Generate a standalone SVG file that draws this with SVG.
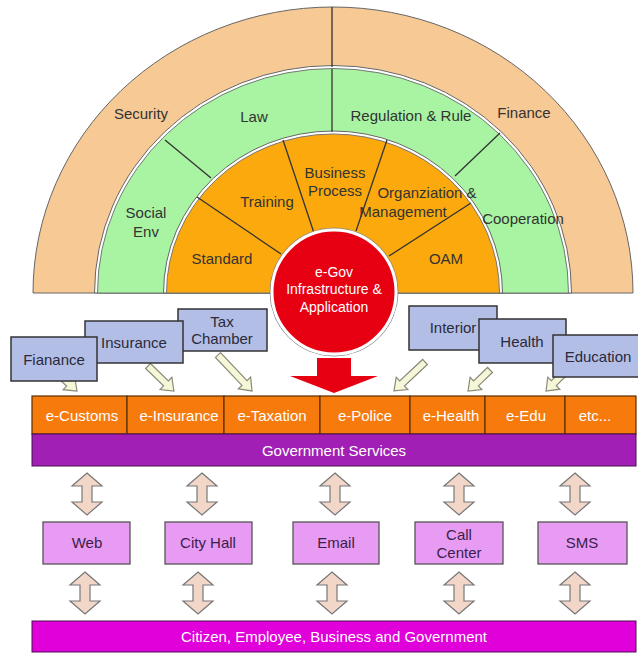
<svg xmlns="http://www.w3.org/2000/svg" xmlns:xlink="http://www.w3.org/1999/xlink" width="638" height="653" viewBox="0 0 638 653">
<defs>
<style>
text{font-family:"Liberation Sans",Arial,sans-serif;text-anchor:middle}
.lbl{font-size:15px;fill:#333}
.blue rect{fill:#B3BEE6;stroke:#333;stroke-width:1.5}
.blue text{font-size:15px;fill:#2a2a3a}
.svc rect{fill:#F77A0C;stroke:#5a3000;stroke-width:1.2}
.svc text{font-size:15px;fill:#fff}
.ch rect{fill:#E89BF3;stroke:#555;stroke-width:1.3}
.ch text{font-size:15px;fill:#3a1f4a}
.div{stroke:#333;stroke-width:1.3;fill:none}
.diag{fill:#F6F6D8;stroke:#8a8a78;stroke-width:1.2}
.dbl{fill:#F2D6C8;stroke:#777;stroke-width:1.2}
</style>
<path id="dblarrow" d="M0,0 L15,13 L5,13 L5,29 L15,29 L0,42 L-15,29 L-5,29 L-5,13 L-15,13 Z"/>
</defs>
<rect width="638" height="653" fill="#fff"/>

<g id="rings">
<path d="M33,293 A300,286 0 0 1 633,293 Z" fill="#F7C995" stroke="#666" stroke-width="1"/>
<path d="M94.5,293 A238.5,227.5 0 0 1 571.5,293 Z" fill="#fff" stroke="#666" stroke-width="1"/>
<path d="M97.5,293 A235.5,224.5 0 0 1 568.5,293 Z" fill="#A8F4A2" stroke="#777" stroke-width="1"/>
<path d="M163.5,293 A169.5,162 0 0 1 502.5,293 Z" fill="#fff" stroke="#666" stroke-width="1"/>
<path d="M166.5,293 A166.5,159 0 0 1 499.5,293 Z" fill="#FBA90D" stroke="#777" stroke-width="1"/>
<path class="div" d="M332,7 L332,67"/>
<path class="div" d="M332,69 L332,132"/>
<path class="div" d="M165,140 L211,178"/>
<path class="div" d="M500,133 L455,176"/>
<path class="div" d="M197,197 L281,254"/>
<path class="div" d="M283,140 L314,233"/>
<path class="div" d="M387,140 L356,231"/>
<path class="div" d="M471,203 L389,256"/>
</g>

<g id="security"><text class="lbl" x="141" y="119">Security</text></g>
<g id="law"><text class="lbl" x="254" y="122">Law</text></g>
<g id="regulation"><text class="lbl" x="411" y="121">Regulation &amp; Rule</text></g>
<g id="finance"><text class="lbl" x="524" y="118">Finance</text></g>
<g id="social-env"><text class="lbl" x="146" y="218">Social</text><text class="lbl" x="146" y="237">Env</text></g>
<g id="cooperation"><text class="lbl" x="523" y="224">Cooperation</text></g>
<g id="training"><text class="lbl" x="267" y="207">Training</text></g>
<g id="business-process"><text class="lbl" x="335" y="178">Business</text><text class="lbl" x="335" y="196">Process</text></g>
<g id="organization"><text class="lbl" x="427" y="198">Organziation &amp;</text><text class="lbl" x="403" y="217">Management</text></g>
<g id="standard"><text class="lbl" x="222" y="264">Standard</text></g>
<g id="oam"><text class="lbl" x="446" y="264">OAM</text></g>

<g id="egov">
<circle cx="334" cy="292" r="64" fill="none" stroke="#888" stroke-width="1"/>
<circle cx="334" cy="292" r="62" fill="#E60012" stroke="#fff" stroke-width="3"/>
<text x="334" y="277" style="font-size:14px;fill:#fff">e-Gov</text>
<text x="334" y="294" style="font-size:14px;fill:#fff">Infrastructure &amp;</text>
<text x="334" y="312" style="font-size:14px;fill:#fff">Application</text>
</g>

<g id="connectors">
<path class="diag" transform="translate(62,377) rotate(43)" d="M0,-3.5 L9.5,-3.5 L9.5,-8.5 L20.5,0 L9.5,8.5 L9.5,3.5 L0,3.5Z"/>
<path class="diag" transform="translate(148,366) rotate(44)" d="M0,-3.5 L25,-3.5 L25,-8.5 L36,0 L25,8.5 L25,3.5 L0,3.5Z"/>
<path class="diag" transform="translate(218,355) rotate(46.6)" d="M0,-3.5 L38.5,-3.5 L38.5,-8.5 L49.5,0 L38.5,8.5 L38.5,3.5 L0,3.5Z"/>
<path class="diag" transform="translate(425,362) rotate(137)" d="M0,-3.5 L31.4,-3.5 L31.4,-8.5 L42.4,0 L31.4,8.5 L31.4,3.5 L0,3.5Z"/>
<path class="diag" transform="translate(490,370) rotate(136.3)" d="M0,-3.5 L19.4,-3.5 L19.4,-8.5 L30.4,0 L19.4,8.5 L19.4,3.5 L0,3.5Z"/>
<path class="diag" transform="translate(563,374) rotate(135)" d="M0,-3.5 L13,-3.5 L13,-8.5 L24,0 L13,8.5 L13,3.5 L0,3.5Z"/>
<path d="M317,358 L351,358 L351,376 L378,376 L334,393 L290,376 L317,376 Z" fill="#E60012"/>
<use href="#dblarrow" class="dbl" x="87" y="473"/>
<use href="#dblarrow" class="dbl" x="202" y="473"/>
<use href="#dblarrow" class="dbl" x="335" y="473"/>
<use href="#dblarrow" class="dbl" x="459" y="473"/>
<use href="#dblarrow" class="dbl" x="575" y="473"/>
<use href="#dblarrow" class="dbl" x="85" y="572"/>
<use href="#dblarrow" class="dbl" x="198" y="572"/>
<use href="#dblarrow" class="dbl" x="332" y="572"/>
<use href="#dblarrow" class="dbl" x="459" y="572"/>
<use href="#dblarrow" class="dbl" x="575" y="572"/>
</g>

<g id="tax-chamber" class="blue"><rect x="178" y="309" width="89" height="42"/><text x="222" y="327">Tax</text><text x="222" y="344">Chamber</text></g>
<g id="insurance" class="blue"><rect x="85" y="321" width="98" height="42"/><text x="134" y="348">Insurance</text></g>
<g id="fianance" class="blue"><rect x="11" y="337" width="86" height="44"/><text x="54" y="365">Fianance</text></g>
<g id="interior" class="blue"><rect x="409" y="306" width="88" height="44"/><text x="453" y="333">Interior</text></g>
<g id="health" class="blue"><rect x="479" y="319" width="87" height="44"/><text x="522" y="347">Health</text></g>
<g id="education" class="blue"><rect x="553" y="335" width="90" height="42"/><text x="598" y="362">Education</text></g>

<g id="services" class="svc">
<g id="e-customs"><rect x="32" y="396" width="95" height="38"/><text x="82" y="421">e-Customs</text></g>
<g id="e-insurance"><rect x="127" y="396" width="97" height="38"/><text x="179" y="421">e-Insurance</text></g>
<g id="e-taxation"><rect x="224" y="396" width="96" height="38"/><text x="272" y="421">e-Taxation</text></g>
<g id="e-police"><rect x="320" y="396" width="90" height="38"/><text x="365" y="421">e-Police</text></g>
<g id="e-health"><rect x="410" y="396" width="75" height="38"/><text x="451" y="421">e-Health</text></g>
<g id="e-edu"><rect x="485" y="396" width="80" height="38"/><text x="526" y="421">e-Edu</text></g>
<g id="etc"><rect x="565" y="396" width="71" height="38"/><text x="595" y="421">etc...</text></g>
</g>

<g id="government-services"><rect x="32" y="434" width="604" height="32" fill="#A11FB4" stroke="#4a1050" stroke-width="1"/><text x="334" y="456" style="font-size:15px;fill:#fff">Government Services</text></g>

<g id="web" class="ch"><rect x="43" y="522" width="87" height="42"/><text x="87" y="548">Web</text></g>
<g id="city-hall" class="ch"><rect x="165" y="522" width="87" height="42"/><text x="208" y="548">City Hall</text></g>
<g id="email" class="ch"><rect x="293" y="522" width="86" height="42"/><text x="336" y="548">Email</text></g>
<g id="call-center" class="ch"><rect x="415" y="522" width="88" height="42"/><text x="459" y="540">Call</text><text x="459" y="558">Center</text></g>
<g id="sms" class="ch"><rect x="538" y="522" width="89" height="42"/><text x="582" y="548">SMS</text></g>

<g id="citizens"><rect x="32" y="621" width="604" height="31" fill="#E000D9" stroke="#4a1050" stroke-width="1"/><text x="334" y="642" style="font-size:15px;fill:#fff">Citizen, Employee, Business and Government</text></g>
</svg>
